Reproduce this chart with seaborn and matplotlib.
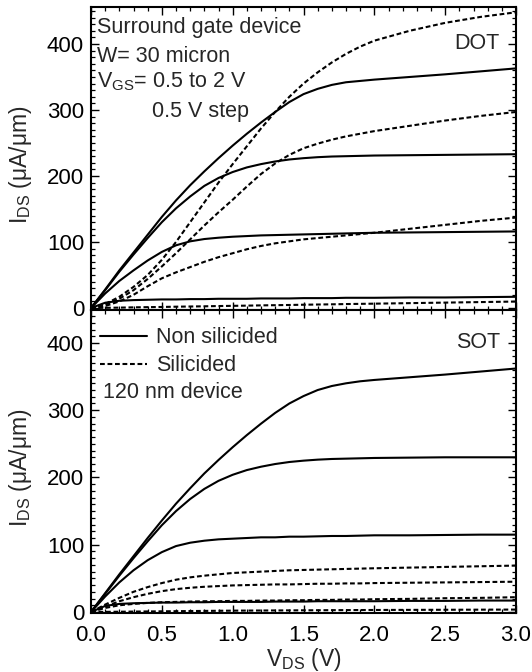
import numpy as np
import pandas as pd
import matplotlib
matplotlib.use("Agg")
import matplotlib.pyplot as plt
from matplotlib.lines import Line2D
from matplotlib.ticker import MultipleLocator
import seaborn as sns

# ---------------- data ----------------
vds = [0, 0.1, 0.2, 0.3, 0.4, 0.5, 0.6, 0.7, 0.8, 0.9, 1.0, 1.1, 1.2, 1.3,
       1.4, 1.5, 1.6, 1.7, 1.8, 1.9, 2.0, 2.25, 2.5, 2.75, 3.0]
vgs_levels = ["2.0", "1.5", "1.0", "0.5"]

# DOT panel
dot_nonsil_20 = [0, 28, 57, 84, 111, 138, 163, 186, 207, 227, 246, 264, 281, 297, 312, 324, 332, 338, 342, 344, 346, 350, 354, 358.5, 363]
dot_nonsil_15 = [0, 27, 55, 81, 106, 130, 151, 169, 185, 197, 206, 213, 218, 222, 225, 227, 228.5, 229.5, 230, 230.5, 231, 231.5, 232, 232.5, 233]
dot_nonsil_10 = [0, 22, 41, 57, 72, 85, 95, 101, 104.5, 106.5, 108, 109, 110, 110.5, 111, 111.5, 112, 112.5, 113, 113.5, 114, 114.5, 115, 115.5, 116]
dot_nonsil_05 = [0, 8, 11, 12, 12.5, 13, 13, 13.5, 13.5, 14, 14, 14, 14.5, 14.5, 14.5, 15, 15, 15, 15.5, 15.5, 15.5, 16, 16, 16.5, 17]
dot_sil_20 = [0, 6, 17, 32, 50, 73, 100, 130, 160, 190, 218, 245, 272, 297, 320, 340, 357, 372, 385, 396, 405, 420, 432, 441, 448]
dot_sil_15 = [0, 5, 14, 27, 44, 63, 83, 104, 125, 145, 164, 184, 203, 219, 232, 242, 249, 255, 260, 264, 268, 276, 284, 291, 297]
dot_sil_10 = [0, 3, 10, 20, 33, 45, 54, 62, 70, 77, 83, 89, 94, 98, 101, 104, 106, 108, 110, 112, 114, 120, 126, 132, 137]
dot_sil_05 = [0, 0.3, 0.6, 1, 1.3, 1.6, 2, 2.3, 2.6, 3, 3.3, 3.6, 4, 4.3, 4.6, 5, 5.3, 5.6, 6, 6.3, 6.6, 7.4, 8.2, 9, 9.8]

# SOT panel
sot_nonsil_20 = [0, 28, 56, 83, 110, 136, 161, 184, 206, 226, 245, 263, 280, 296, 310, 321, 330, 336, 340, 343, 345, 349, 353, 357.5, 362]
sot_nonsil_15 = [0, 27, 54, 80, 105, 129, 150, 168, 183, 195, 204, 211, 216, 220, 223, 225, 226.5, 227.5, 228, 228.5, 229, 229.5, 230, 230, 230]
sot_nonsil_10 = [0, 23, 44, 62, 77, 89, 98, 103, 106, 108, 109, 110, 111, 111, 112, 112, 112.5, 113, 113, 113.5, 114, 114, 114.5, 115, 115]
sot_nonsil_05 = [0, 9, 12, 13, 13.5, 14, 14, 14.5, 14.5, 15, 15, 15, 15, 15.5, 15.5, 15.5, 16, 16, 16, 16, 16, 16.5, 16.5, 17, 17]
sot_sil_20 = [0, 11, 21, 30, 37, 43, 48, 51.5, 54, 56, 58, 59, 60, 61, 62, 62.5, 63, 63.5, 64, 64.5, 65, 66, 67, 68, 69]
sot_sil_15 = [0, 8, 16, 22, 27, 31, 34, 36, 37.5, 38.5, 39.5, 40, 40.5, 41, 41, 41.5, 42, 42, 42.5, 42.5, 43, 43.5, 44, 44.5, 45]
sot_sil_10 = [0, 6, 10, 12, 13.5, 14.5, 15, 15.5, 16, 16, 16.5, 16.5, 17, 17, 17.5, 17.5, 18, 18, 18.5, 18.5, 19, 19.5, 20.5, 21, 22]
sot_sil_05 = [0, 0.2, 0.4, 0.6, 0.8, 1, 1.2, 1.4, 1.6, 1.8, 2, 2.1, 2.2, 2.3, 2.4, 2.5, 2.6, 2.7, 2.8, 2.9, 3, 3.15, 3.3, 3.45, 3.6]

x_ticks = [0.0, 0.5, 1.0, 1.5, 2.0, 2.5, 3.0]
y_ticks = [0, 100, 200, 300, 400]


def build(nonsil, sil):
    rows = []
    for g, ys in zip(vgs_levels, nonsil):
        for v, i in zip(vds, ys):
            rows.append({"V": v, "I": i, "gate": g, "kind": "Non silicided"})
    for g, ys in zip(vgs_levels, sil):
        for v, i in zip(vds, ys):
            rows.append({"V": v, "I": i, "gate": g, "kind": "Silicided"})
    return pd.DataFrame(rows)


df_dot = build([dot_nonsil_20, dot_nonsil_15, dot_nonsil_10, dot_nonsil_05],
               [dot_sil_20, dot_sil_15, dot_sil_10, dot_sil_05])
df_sot = build([sot_nonsil_20, sot_nonsil_15, sot_nonsil_10, sot_nonsil_05],
               [sot_sil_20, sot_sil_15, sot_sil_10, sot_sil_05])

# ---------------- style ----------------
sns.set_style("white")
plt.rcParams["font.family"] = ["Liberation Sans", "DejaVu Sans"]
plt.rcParams["mathtext.fontset"] = "custom"
plt.rcParams["mathtext.rm"] = "Liberation Sans"
plt.rcParams["mathtext.default"] = "regular"

FS = 15.5      # annotation text
TFS = 16       # tick labels
LFS = 16.5     # axis labels
LW = 1.5
DASH = (2.3, 1.3)

fig = plt.figure(figsize=(5.32, 6.72), dpi=100)
left, width = 91 / 532, 425 / 532
ax_top = fig.add_axes([left, 1 - 310 / 672, width, 303 / 672])
ax_bot = fig.add_axes([left, 1 - 613 / 672, width, 303 / 672])

for ax, df, ylim in [(ax_top, df_dot, (-3, 456)), (ax_bot, df_sot, (-1.5, 449))]:
    sns.lineplot(data=df, x="V", y="I", style="kind", units="gate",
                 estimator=None, sort=False, color="black", linewidth=LW,
                 dashes={"Non silicided": "", "Silicided": DASH},
                 legend=False, ax=ax)
    ax.set_xlim(0, 3.0)
    ax.set_ylim(*ylim)
    ax.set_xticks(x_ticks)
    ax.set_yticks(y_ticks)
    ax.xaxis.set_minor_locator(MultipleLocator(0.1))
    ax.yaxis.set_minor_locator(MultipleLocator(10))
    ax.tick_params(which="both", direction="in", top=True, right=True,
                   bottom=True, left=True, colors="black")
    ax.tick_params(which="major", length=6, width=1.0, labelsize=TFS, pad=5)
    ax.tick_params(which="minor", length=3, width=0.9)
    for sp in ax.spines.values():
        sp.set_linewidth(1.5)
        sp.set_color("black")
    ax.set_ylabel(r"I$_{DS}$ (μA/μm)", fontsize=LFS)
    ax.yaxis.set_label_coords(-0.134, 0.48)
    ax.set_xlabel("")

ax_top.tick_params(axis="x", which="both", labelbottom=False)
ax_bot.tick_params(axis="x", which="major", pad=8.5)
ax_bot.set_xticklabels([f"{t:.1f}" for t in x_ticks])
ax_bot.set_xlabel(r"V$_{DS}$ (V)", fontsize=LFS)
ax_bot.xaxis.set_label_coords(0.5, -0.108)

# ---------------- annotations ----------------
ax_top.text(0.014, 0.914, "Surround gate device", transform=ax_top.transAxes, fontsize=FS, va="baseline")
ax_top.text(0.014, 0.818, "W= 30 micron", transform=ax_top.transAxes, fontsize=FS, va="baseline")
ax_top.text(0.014, 0.736, r"V$_{GS}$= 0.5 to 2 V", transform=ax_top.transAxes, fontsize=FS, va="baseline")
ax_top.text(0.1435, 0.637, "0.5 V step", transform=ax_top.transAxes, fontsize=FS, va="baseline")
ax_top.text(0.96, 0.861, "DOT", transform=ax_top.transAxes, fontsize=FS, va="baseline", ha="right")

ax_bot.text(0.962, 0.875, "SOT", transform=ax_bot.transAxes, fontsize=FS, va="baseline", ha="right")
ax_bot.text(0.028, 0.7096, "120 nm device", transform=ax_bot.transAxes, fontsize=FS, va="baseline")

handles = [Line2D([], [], color="black", lw=LW),
           Line2D([], [], color="black", lw=LW, dashes=DASH)]
ax_bot.legend(handles, ["Non silicided", "Silicided"], loc="upper left",
              bbox_to_anchor=(0.021, 0.943), frameon=False, fontsize=FS,
              handlelength=2.2, handletextpad=0.4, borderaxespad=0,
              borderpad=0, labelspacing=0.33)

fig.savefig("out.png", dpi=100, facecolor="white")
